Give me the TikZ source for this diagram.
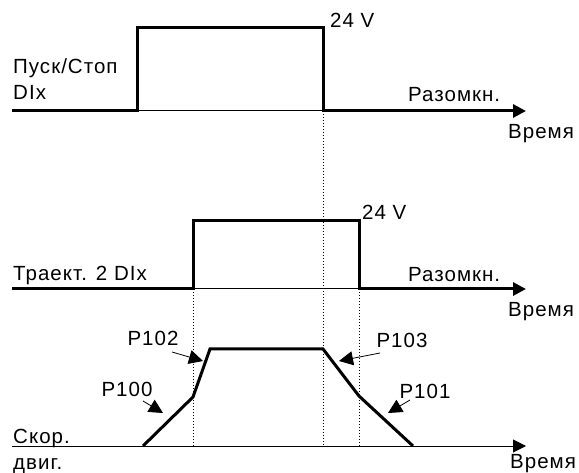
\documentclass[tikz,border=0pt]{standalone}
\usepackage{fontspec}
\setmainfont{Liberation Sans}[LetterSpace=5]
\usetikzlibrary{arrows.meta}
\begin{document}
\begin{tikzpicture}[x=1pt,y=-1pt,
  lbl/.style={anchor=base west,inner sep=0pt,font=\fontsize{20.5}{23}\selectfont},
  plbl/.style={anchor=base,inner sep=0pt,font=\fontsize{20.5}{23}\selectfont},
  sig/.style={line width=3pt,line join=miter},
  thin/.style={line width=1pt},
  dotline/.style={line width=1pt,dash pattern=on 1.2pt off 1.8pt},
  tip/.style={-{Triangle[length=13pt,width=13pt]}},
  ptr/.style={line width=0.8pt,-{Triangle[length=14pt,width=14pt]}}]
\useasboundingbox (0,0) rectangle (579,473);
% coordinates
\coordinate (a0) at (12,111); \coordinate (a1) at (137,111); \coordinate (a2) at (137,28);
\coordinate (a3) at (323,28); \coordinate (a4) at (323,111); \coordinate (a5) at (526,111);
\coordinate (b0) at (12,289); \coordinate (b1) at (193,289); \coordinate (b2) at (193,221);
\coordinate (b3) at (359,221); \coordinate (b4) at (359,289); \coordinate (b5) at (526,289);
\coordinate (c0) at (12,446); \coordinate (c5) at (526,446);
\coordinate (s0) at (143,446); \coordinate (s1) at (193,397); \coordinate (s2) at (210,349);
\coordinate (s3) at (323,349); \coordinate (s4) at (359,396); \coordinate (s5) at (413,446);
\coordinate (d1) at (193,446); \coordinate (d2) at (323,446); \coordinate (d3) at (359,446);
% dotted guides
\draw[dotline] (a4) -- (d2);
\draw[dotline] (b1) -- (d1);
\draw[dotline] (b4) -- (d3);
% thin base lines
\draw[thin] (a1) -- (a4);
\draw[thin] (b1) -- (b4);
\draw[thin,tip] (c0) -- (c5);
% signals
\draw[sig] (a0) -- (a1) -- (a2) -- (a3) -- (a4) -- ([xshift=-10pt]a5);
\draw[sig,tip] (a4) -- (a5);
\draw[sig] (b0) -- (b1) -- (b2) -- (b3) -- (b4) -- ([xshift=-10pt]b5);
\draw[sig,tip] (b4) -- (b5);
\draw[sig] (s0) -- (s1) -- (s2) -- (s3) -- (s4) -- (s5);
% labels
\node[lbl] (ps) at (13,74) {Пуск/Стоп};
\node[lbl] (dix1) at (13,100) {DIx};
\node[lbl] (v1) at (330,28) {24 V};
\node[lbl] (r1) at (408,102) {Разомкн.};
\node[lbl] (t1) at (508,139) {Время};
\node[lbl] (tr) at (13,281) {Траект. 2 DIx};
\node[lbl] (v2) at (362,220) {24 V};
\node[lbl] (r2) at (408,282) {Разомкн.};
\node[lbl] (t2) at (508,317) {Время};
\node[lbl] (sk) at (13,443) {Скор.};
\node[lbl] (dv) at (13,469) {двиг.};
\node[lbl] (t3) at (510,468) {Время};
\node[plbl] (p102) at (153,345) {P102};
\node[plbl] (p100) at (127,396) {P100};
\node[plbl] (p103) at (402,348) {P103};
\node[plbl] (p101) at (425,399) {P101};
% pointers
\coordinate (q102) at (172,352); \coordinate (e102) at (203,361);
\coordinate (q100) at (143,401); \coordinate (e100) at (163,413);
\coordinate (q103) at (380,353); \coordinate (e103) at (339,361);
\coordinate (q101) at (410,400); \coordinate (e101) at (388,413);
\draw[ptr] (q102) -- (e102);
\draw[ptr] (q100) -- (e100);
\draw[ptr] (q103) -- (e103);
\draw[ptr] (q101) -- (e101);
\end{tikzpicture}
\end{document}
